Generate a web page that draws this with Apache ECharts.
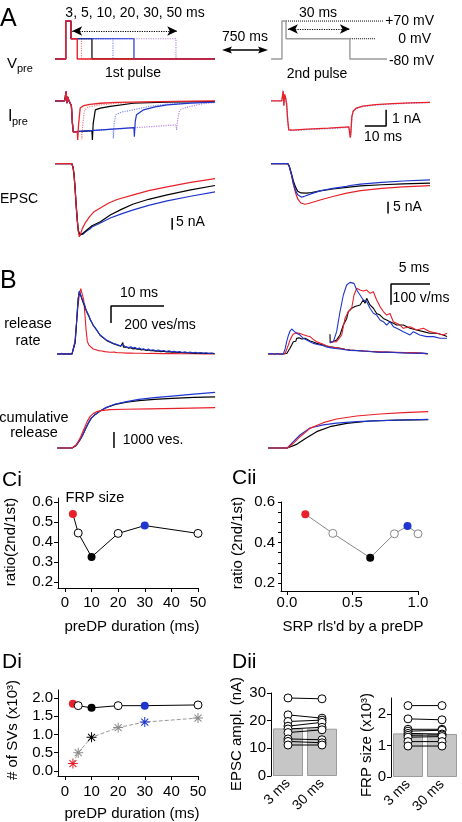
<!DOCTYPE html>
<html><head><meta charset="utf-8">
<script src="https://cdn.jsdelivr.net/npm/echarts@6/dist/echarts.min.js"></script>
<style>html,body{margin:0;padding:0;background:#fff}#c{width:462px;height:822px}</style>
</head><body><div id="c"></div>
<script>
// ===== DATA (t in ms, V in mV, I in nA, rates in ves/ms, counts in vesicles) =====
const vpre3  = [[-7.6,-80],[-2.5,-80],[-2.5,70],[0,70],[0,0],[3,0],[3,-80],[68.6,-80]];
const vpre5  = [[-7.6,-80],[-2.5,-80],[-2.5,70],[0,70],[0,0],[5,0],[5,-80],[68.6,-80]];
const vpre10 = [[-7.6,-80],[-2.5,-80],[-2.5,70],[0,70],[0,0],[10,0],[10,-80],[68.6,-80]];
const vpre20 = [[-7.6,-80],[-2.5,-80],[-2.5,70],[0,70],[0,0],[20,0],[20,-80],[68.6,-80]];
const vpre30 = [[-7.6,-80],[-2.5,-80],[-2.5,70],[0,70],[0,0],[30,0],[30,-80],[68.6,-80]];
const vpre50 = [[-7.6,-80],[-2.5,-80],[-2.5,70],[0,70],[0,0],[50,0],[50,-80],[68.6,-80]];
const vpre2nd = [[-7,-80],[-1.9,-80],[-1.9,70],[0,70],[0,0],[30,0],[30,-80],[47.4,-80]];
const vpreRef70 = [[0,70],[45.5,70]];
const vpreRef0 = [[30,0],[41.8,0]];
const arrow1st = [[0.6,30.6],[50.6,30.6]];
const arrow2nd = [[0.9,38.5],[30,38.5]];

const ipreStart = [[-7.6,0],[-3,0],[-2.6,0.1],[-2.3,0.58],[-1.9,-0.15],[-1.5,0.25],[-1.1,0.05],[-0.3,0],[0.2,-0.3],[0.7,-1.4],[1.1,-1.93]];
const ipre3  = ipreStart.concat([[3,-1.91],[3.2,-2.44],[3.6,-1.5],[4.4,-0.45],[6,-0.3],[9,-0.22],[14,-0.15],[22,-0.1],[35,-0.06],[50,-0.03],[68.6,0]]);
const ipre5  = ipreStart.concat([[5,-1.89],[5.2,-2.4],[5.6,-1.5],[6.4,-0.6],[8,-0.4],[12,-0.28],[21.9,-0.15],[35,-0.08],[50,-0.05],[68.6,-0.02]]);
const ipre10 = ipreStart.concat([[10,-1.85],[10.2,-2.44],[10.6,-1.4],[11.6,-0.56],[14,-0.45],[18.7,-0.35],[29.7,-0.15],[45,-0.08],[68.6,-0.04]]);
const ipre20 = ipreStart.concat([[20,-1.76],[20.2,-2.35],[20.6,-1.4],[21.2,-0.87],[24,-0.7],[29.7,-0.56],[37,-0.35],[45.8,-0.2],[57,-0.12],[68.6,-0.05]]);
const ipre30 = ipreStart.concat([[30,-1.67],[30.2,-2.23],[30.6,-1.3],[31.2,-0.87],[34.6,-0.56],[40,-0.38],[45.8,-0.25],[57,-0.14],[68.6,-0.08]]);
const ipre50 = ipreStart.concat([[50,-1.5],[50.3,-1.81],[50.8,-1.2],[51.7,-0.6],[54,-0.45],[58.3,-0.3],[63,-0.18],[68.6,-0.1]]);
const ipre2Red  = [[-7,0],[-2,0],[-1.6,0.1],[-1.3,0.6],[-1.0,-0.3],[-0.6,0.4],[-0.2,0.2],[0.3,-0.2],[0.8,-1.2],[1.3,-1.8],[3,-1.82],[10,-1.76],[20,-1.7],[29.5,-1.62],[29.9,-1.7],[30.2,-2.3],[30.5,-1.9],[30.9,-1.0],[31.5,-0.65],[33,-0.45],[36,-0.33],[42,-0.24],[50,-0.17],[58,-0.13],[67.6,-0.09]];
const ipre2Blue = [[-7,0],[-2,0],[-1.7,0.15],[-1.45,0.68],[-1.0,-0.25],[-0.6,0.35],[-0.2,0.2],[0.3,-0.2],[0.8,-1.25],[1.3,-1.83],[3,-1.85],[10,-1.79],[20,-1.73],[29.5,-1.65],[29.9,-1.72],[30.2,-2.25],[30.5,-1.9],[30.9,-1.02],[31.5,-0.68],[33,-0.48],[36,-0.36],[42,-0.26],[50,-0.19],[58,-0.15],[67.6,-0.1]];

const epscRed   = [[-7.6,0],[0.4,0],[1,-1.5],[1.5,-5],[2,-11],[2.5,-18],[3,-24],[3.5,-29],[4,-31.2],[4.5,-30],[5.5,-27.5],[6.8,-25.3],[9,-22.5],[11,-20.5],[14,-18.9],[18,-16.8],[22,-15.3],[29.7,-13.3],[37,-11.5],[45.8,-9.9],[57,-8],[68.6,-6.4]];
const epscBlack = [[-7.6,0],[0.4,0],[1,-1.5],[1.5,-5],[2,-11],[2.5,-18],[3,-24],[3.5,-28.5],[4.2,-30.5],[5,-30.3],[6,-29.5],[8,-28],[10,-26.5],[14,-24.8],[18.7,-21.9],[24,-19.5],[29.7,-17.2],[37,-15.2],[45.8,-13.3],[57,-11.2],[68.6,-9.3]];
const epscBlue  = [[-7.6,0],[0.4,0],[1,-1.5],[1.5,-5],[2,-11],[2.5,-18],[3,-24],[3.5,-28.5],[4.2,-30.3],[5,-30.6],[5.6,-30.2],[6,-30.4],[7,-29.1],[8,-28.4],[9,-27.9],[10,-27],[14,-25.3],[18.7,-23.2],[24,-21.4],[29.7,-19.7],[37,-17.8],[45.8,-15.9],[57,-13.9],[68.6,-12]];
const epsc2Red   = [[-7,0],[0.8,0],[1.5,-1],[2.5,-4.5],[3.5,-9],[4.5,-12.5],[5.5,-15],[7,-16.8],[8.9,-17.3],[11,-16.9],[16,-15.5],[22,-14],[28.5,-12.6],[35,-11.5],[45,-10.5],[55,-9.9],[67.6,-9.4]];
const epsc2Black = [[-7,0],[0.8,0],[1.5,-1],[2.5,-4],[3.5,-7.5],[4.5,-10],[5.5,-11.8],[7,-12.5],[9.7,-12.6],[12,-12.3],[16,-11.6],[22,-10.8],[28.5,-10.1],[35,-9.5],[45,-9],[55,-8.6],[67.6,-8.3]];
const epsc2Blue  = [[-7,0],[0.8,0],[1.5,-1],[2.5,-4.5],[3.5,-8.5],[4.5,-11.5],[5.5,-13.3],[7.4,-14.3],[9,-13.8],[12,-12.8],[16,-11.6],[22,-10.5],[28.5,-9.7],[30,-9.3],[30.5,-9.9],[35,-8.7],[45,-8],[55,-7.4],[67.6,-6.9]];

const rateRed = [[-2.8,0],[-1,2],[0,0],[0.25,10],[0.55,150],[0.88,380],[1.15,580],[1.4,700],[1.65,770],[1.83,792],[2.0,760],[2.2,640],[2.45,459],[2.65,290],[2.9,145],[3.2,105],[3.5,85],[4.0,59],[4.5,50],[5,40],[5.6,35],[6.2,28],[7.2,20],[8.0,22],[8.5,15],[9.3,14],[10.3,10],[11,12],[12,8],[13,9],[14,6],[15,7],[17,5],[19,6],[21,3],[23,4],[25,2],[26.9,2]];
const rateBlack = [[-2.8,0],[0,0],[0.3,15],[0.6,130],[0.9,400],[1.15,640],[1.38,735],[1.6,715],[1.85,650],[2.13,600],[2.4,560],[2.65,515],[2.9,480],[3.2,440],[3.5,395],[3.75,370],[4.0,335],[4.3,320],[4.6,285],[4.9,262],[5.3,220],[5.6,215],[5.9,190],[6.2,180],[6.5,160],[6.8,158],[7.2,138],[7.5,140],[7.8,120],[8.1,125],[8.5,105],[8.8,108],[9.2,90],[9.5,92],[9.6,135],[9.7,80],[10.0,80],[10.3,82],[10.7,68],[11.1,74],[11.5,60],[11.9,66],[12.3,55],[12.7,60],[13.1,48],[13.5,52],[14,42],[14.4,46],[14.8,38],[15.3,40],[15.8,32],[16.3,36],[16.8,28],[17.3,32],[17.8,25],[18.3,28],[18.8,20],[19.3,24],[19.8,17],[20.3,20],[21,14],[22,16],[23,10],[24,12],[25,7],[26,9],[26.9,5]];
const rateBlue = [[-2.8,3],[-2.4,-6],[-2,8],[-1.6,-4],[-1.2,6],[-0.8,-5],[-0.4,4],[0,0],[0.3,20],[0.6,150],[0.9,420],[1.15,650],[1.38,741],[1.6,720],[1.85,660],[2.13,615],[2.4,580],[2.65,520],[2.9,497],[3.2,450],[3.5,400],[3.75,380],[4.0,341],[4.3,330],[4.6,290],[4.9,270],[5.3,224],[5.6,230],[5.9,195],[6.2,190],[6.5,165],[6.8,170],[7.2,145],[7.5,150],[7.8,125],[8.1,135],[8.5,112],[8.8,118],[9.2,95],[9.6,110],[10.0,88],[10.3,92],[10.7,75],[11.1,85],[11.5,70],[11.9,78],[12.3,62],[12.7,70],[13.1,55],[13.5,62],[14,48],[14.4,58],[14.8,45],[15.3,50],[15.8,38],[16.3,46],[16.8,35],[17.3,42],[17.8,30],[18.3,38],[18.8,25],[19.3,33],[19.8,22],[20.3,28],[20.8,18],[21.3,26],[21.8,15],[22.3,22],[22.8,12],[23.3,20],[23.8,10],[24.3,17],[24.8,8],[25.3,15],[25.8,6],[26.3,12],[26.9,5]];

const cumRed   = [[-2.8,0],[0,0],[0.25,0],[0.8,200],[1.5,600],[2.0,980],[2.45,1330],[2.9,1680],[3.4,1960],[4.0,2150],[4.66,2270],[5.5,2340],[7.2,2400],[10,2425],[14.7,2450],[20,2480],[27,2520]];
const cumBlack = [[-2.8,0],[0,0],[0.25,0],[0.8,160],[1.5,500],[2.0,800],[2.45,1125],[3.0,1500],[3.6,1850],[4.4,2100],[5.3,2310],[6.5,2530],[8.2,2730],[10.3,2860],[12.6,2960],[15.5,3040],[18.9,3100],[23,3160],[27,3200]];
const cumBlue  = [[-2.8,0],[0,0],[0.25,0],[0.8,160],[1.5,500],[2.0,800],[2.45,1125],[3.0,1500],[3.6,1850],[4.4,2100],[5.3,2310],[6.5,2540],[8.2,2750],[10.3,2900],[12.6,3040],[15.5,3150],[18.9,3250],[23,3370],[27,3480]];

const rate2Red = [[-2.8,0],[0,0],[0.38,5],[0.7,55],[1.0,106],[1.3,160],[1.64,204],[1.95,235],[2.26,255],[2.58,250],[2.89,243],[3.2,240],[3.52,231],[3.84,226],[4.15,223],[4.6,212],[5.09,204],[5.7,172],[6.35,145],[7.0,128],[7.6,114],[8.2,98],[8.86,86],[9.8,75],[10.75,67],[11.7,56],[12.64,47],[13.9,42],[15.16,35],[16.7,30],[18.3,27],[19.8,24],[21.4,20],[23,16],[24.6,16],[26,10],[27.3,2]];
const rate2Black = [[-2.8,0],[0,0],[0.69,5],[1.0,35],[1.32,67],[1.64,105],[1.95,145],[2.26,165],[2.42,150],[2.58,184],[2.75,170],[2.89,165],[3.05,190],[3.21,192],[3.52,176],[3.84,185],[4.15,184],[4.6,170],[5.09,153],[5.7,140],[6.35,125],[7.0,115],[7.6,106],[8.2,95],[8.86,86],[9.8,75],[10.75,67],[11.7,56],[12.64,47],[13.9,42],[15.16,35],[16.7,30],[18.3,22],[19.8,20],[21.4,18],[23,14],[24.6,12],[26,8],[27.3,4]];
const rate2Blue = [[-2.8,0],[-2.2,6],[-1.6,-3],[-1,5],[-0.5,-2],[0.06,2],[0.4,60],[0.69,145],[1.0,215],[1.32,270],[1.64,294],[1.85,285],[2.08,270],[2.3,255],[2.58,243],[2.9,235],[3.21,223],[3.5,200],[3.84,184],[4.15,175],[4.47,165],[4.8,150],[5.09,145],[5.7,125],[6.35,114],[7.0,105],[7.6,98],[8.2,82],[8.86,75],[9.8,65],[10.75,59],[11.7,50],[12.64,43],[13.9,40],[15.16,35],[16.7,26],[18.3,20],[19.8,24],[21.4,16],[23,12],[24.6,8],[26,10],[27.3,4]];
const rateZoomRed = [[0,0],[0.85,2],[1.5,34],[1.92,114],[2.35,147],[2.78,163],[3.08,227],[3.42,259],[3.85,251],[4.27,246],[4.7,251],[5.13,235],[5.56,243],[5.98,203],[6.41,171],[6.84,147],[7.26,130],[7.69,138],[8.12,98],[8.55,90],[8.97,82],[9.4,66],[10.26,74],[11.1,58],[11.97,66],[12.8,50],[13.7,42],[14.5,34],[15,42]];
const rateZoomBlack = [[0,37],[0.02,-3],[0.43,2],[0.85,10],[1.28,34],[1.71,82],[2.14,114],[2.35,147],[2.56,138],[2.78,163],[2.99,155],[3.2,171],[3.42,163],[3.85,179],[4.27,203],[4.49,187],[4.7,211],[5.13,179],[5.56,163],[5.98,138],[6.41,130],[6.84,114],[7.26,106],[7.69,98],[8.12,90],[8.55,82],[9.4,82],[10.26,66],[11.1,58],[11.97,50],[12.8,42],[13.7,42],[14.5,34],[15,26]];
const rateZoomBlue = [[0,-3],[0.43,2],[0.85,50],[1.28,146],[1.71,227],[2.14,275],[2.56,288],[2.78,295],[3.08,283],[3.42,251],[3.85,227],[4.27,203],[4.7,195],[5.13,163],[5.56,139],[5.98,130],[6.41,106],[6.84,98],[7.26,82],[7.69,98],[8.12,74],[8.55,66],[9.4,50],[10.26,34],[10.7,50],[11.5,34],[12.4,26],[13.25,26],[14.1,18],[15,18]];
const cum2Red   = [[-2.8,0],[0.8,0],[1.95,292],[3.21,708],[5.09,1229],[7.6,1583],[10.1,1812],[13.9,2000],[18.3,2125],[22.7,2208],[27.4,2271]];
const cum2Black = [[-2.8,0],[0.8,0],[2.58,229],[4.47,646],[6.35,1021],[8.86,1333],[12,1542],[16.4,1688],[21.4,1740],[27.4,1775]];
const cum2Blue  = [[-2.8,0],[0.8,0],[1.95,396],[3.21,813],[5.09,1250],[7.6,1450],[10.1,1550],[13.9,1646],[18.3,1708],[22.7,1750],[27.4,1792]];

// scale bars (data units)
const sbIpre = [[37,-1.56],[47,-1.56],[47,-0.56]];
const sbEpscL = [[48.2,-23.2],[48.2,-28.2]];
const sbEpscR = [[47.9,-16.3],[47.9,-21.3]];
const sbRate = [[17.36,565],[7.36,565],[7.36,365]];
const sbCum = [[7.92,1000],[7.92,0]];
const sbRateZoom = [[12.82,280],[7.82,280],[7.82,180]];

// C / D summary data
const ciDur = [3,5,10,20,30,50];
const ciRatio = [0.54,0.445,0.325,0.443,0.482,0.443];
const ciiSrp = [0.14,0.35,0.635,0.82,0.92,1.0];
const ciiRatio = [0.54,0.445,0.325,0.443,0.482,0.443];
const diDur = [3,5,10,20,30,50];
const diTotal = [1.84,1.79,1.73,1.79,1.79,1.81];
const diPreRel = [0.2,0.5,0.92,1.19,1.34,1.45];
const diiCats = ['3 ms','30 ms'];
const diiEpsc3  = [28.2,22.1,19.7,18.0,17.0,15.7,13.4,12.5,11.2];
const diiEpsc30 = [27.9,20.9,20.2,19.4,17.6,16.7,13.1,12.0,11.2];
const diiEpscMean = [17.2,17.1];
const diiFrp3  = [2.26,1.84,1.51,1.45,1.38,1.32,1.26,1.12,0.98];
const diiFrp30 = [2.26,1.81,1.51,1.48,1.36,1.33,1.28,1.12,0.98];
const diiFrpMean = [1.38,1.36];
const ciTicksX = [0,10,20,30,40,50];
const ciTicksY = [0.2,0.3,0.4,0.5,0.6];
const ciiTicksX = [0,0.5,1.0];
const ciiTicksY = [0.2,0.4,0.6];
const ciiTickMarksY = [0.2,0.25,0.3,0.35,0.4,0.45,0.5,0.55,0.6];
const diTicksY = [0,0.5,1.0,1.5,2.0];
const frpTicksY = [0,1,2];

// ===== STYLES =====
const F = '"Liberation Sans", Arial, Helvetica, sans-serif';
const RED = '#e8202a', BLUE = '#1f35d0', LBLUE = '#8090ee', PURP = '#b487e6', LRED = '#f08080', GRAY = '#9a9a9a';
const roles = ['red','open','black','open','blue','open'];
const starRoles = ['red','gray','black','gray','blue','gray'];
const roleColor = {red:RED, black:'#000', blue:BLUE, open:'#fff', gray:'#8a8a8a'};
const ASTER = 'path://M-1,-10L1,-10L1,10L-1,10Z M-10,-1L10,-1L10,1L-10,1Z M-6.3,-7.7L7.7,6.3L6.3,7.7L-7.7,-6.3Z M-7.7,6.3L6.3,-7.7L7.7,-6.3L-6.3,7.7Z';

const grids = [], xAxes = [], yAxes = [], series = [];
function addGrid(g, xa, ya) {
  grids.push(g); const gi = grids.length - 1;
  xAxes.push(Object.assign({gridIndex: gi}, xa));
  yAxes.push(Object.assign({gridIndex: gi}, ya));
  return {gi: gi, xi: xAxes.length - 1, yi: yAxes.length - 1};
}
function hid(min, max) { return {type:'value', min:min, max:max, show:false, splitLine:{show:false}}; }
function trace(ax, data, color, width, type) {
  series.push({type:'line', xAxisIndex:ax.xi, yAxisIndex:ax.yi, data:data, symbol:'none', showSymbol:false,
    lineStyle:{color:color, width:width || 1.2, type:type || 'solid'}, silent:true, animation:false, clip:false});
}
function arrowMark(ax, pts) {
  series.push({type:'line', xAxisIndex:ax.xi, yAxisIndex:ax.yi, data:pts, symbol:'none', lineStyle:{opacity:0}, silent:true, animation:false,
    markLine:{silent:true, animation:false, symbol:['arrow','arrow'], symbolSize:[7,10], label:{show:false},
      lineStyle:{color:'#000', type:'dotted', width:1.2}, data:[[{coord:pts[0]},{coord:pts[1]}]]}});
}
function valAxis(min, max, ticks, fmt, margin, tickMarks, tickLen) {
  return {type:'value', min:min, max:max, axisLine:{show:true, onZero:false, lineStyle:{color:'#000', width:1}}, splitLine:{show:false},
    axisTick:{show:true, customValues:tickMarks || ticks, length:tickLen || 4, lineStyle:{color:'#000'}},
    axisLabel:{customValues:ticks, color:'#000', fontSize:15, fontFamily:F, margin:margin, formatter:fmt}};
}

// ===== PANEL A =====
const gVL = addGrid({left:55, top:16, width:160, height:48}, hid(-7.6,68.6), hid(-100,90));
const gVR = addGrid({left:268, top:16, width:162, height:48}, hid(-8.45,67.6), hid(-100,90));
const gIL = addGrid({left:55, top:88, width:160, height:57}, hid(-7.6,68.6), hid(-2.75,0.8));
const gIR = addGrid({left:268, top:88, width:162, height:57}, hid(-8.45,67.6), hid(-2.75,0.8));
const gEL = addGrid({left:55, top:159, width:160, height:82}, hid(-7.6,68.6), hid(-33,2));
const gER = addGrid({left:268, top:159, width:162, height:82}, hid(-8.45,67.6), hid(-33,2));
// ===== PANEL B =====
const gRL = addGrid({left:57, top:283, width:158, height:75}, hid(-2.83,26.98), hid(-47,835));
const gCL = addGrid({left:57, top:385, width:158, height:67}, hid(-2.83,26.98), hid(-250,3940));
const gRR = addGrid({left:268, top:283, width:160, height:75}, hid(-2.83,27.36), hid(-47,835));
const gRZ = addGrid({left:328, top:272, width:122, height:74}, hid(-0.256,15.38), hid(-19.3,338));
const gCR = addGrid({left:268, top:385, width:160, height:67}, hid(-2.83,27.36), hid(-250,3940));

trace(gVL, vpre50, PURP, 1.2, 'dotted');
trace(gVL, vpre20, LBLUE, 1.2, 'dotted');
trace(gVL, vpre5, LRED, 1.2, 'dotted');
trace(gVL, vpre10, '#000', 1.2);
trace(gVL, vpre30, BLUE, 1.2);
trace(gVL, vpre3, RED, 1.4);
arrowMark(gVL, arrow1st);
trace(gVR, vpreRef70, '#000', 1, 'dotted');
trace(gVR, vpreRef0, '#000', 1, 'dotted');
trace(gVR, vpre2nd, GRAY, 1.4);
arrowMark(gVR, arrow2nd);

trace(gIL, ipre50, PURP, 1.2, 'dotted');
trace(gIL, ipre20, LBLUE, 1.2, 'dotted');
trace(gIL, ipre5, LRED, 1.2, 'dotted');
trace(gIL, ipre10, '#000', 1.2);
trace(gIL, ipre30, BLUE, 1.2);
trace(gIL, ipre3, RED, 1.3);
trace(gIR, ipre2Blue, LBLUE, 1.3, 'dotted');
trace(gIR, ipre2Red, RED, 1.3);
trace(gIR, sbIpre, '#000', 1.5);

trace(gEL, epscBlue, BLUE, 1.2);
trace(gEL, epscBlack, '#000', 1.2);
trace(gEL, epscRed, RED, 1.2);
trace(gEL, sbEpscL, '#000', 1.5);
trace(gER, epsc2Red, RED, 1.2);
trace(gER, epsc2Black, '#000', 1.2);
trace(gER, epsc2Blue, BLUE, 1.2);
trace(gER, sbEpscR, '#000', 1.5);

trace(gRL, rateRed, RED, 1.1);
trace(gRL, rateBlack, '#000', 1.1);
trace(gRL, rateBlue, BLUE, 1.1);
trace(gRL, sbRate, '#000', 1.5);
trace(gCL, cumBlack, '#000', 1.2);
trace(gCL, cumBlue, BLUE, 1.2);
trace(gCL, cumRed, RED, 1.2);
trace(gCL, sbCum, '#000', 1.5);
trace(gRR, rate2Black, '#000', 1.1);
trace(gRR, rate2Red, RED, 1.1);
trace(gRR, rate2Blue, BLUE, 1.1);
trace(gRZ, rateZoomBlack, '#000', 1.1);
trace(gRZ, rateZoomRed, RED, 1.1);
trace(gRZ, rateZoomBlue, BLUE, 1.1);
trace(gRZ, sbRateZoom, '#000', 1.5);
trace(gCR, cum2Black, '#000', 1.2);
trace(gCR, cum2Blue, BLUE, 1.2);
trace(gCR, cum2Red, RED, 1.2);

// ===== PANEL C =====
const f1 = v => v.toFixed(1);
const gCi = addGrid({left:58, top:498, width:140, height:90},
  valAxis(-2.6, 50, ciTicksX, v => String(v), 7), valAxis(0.17, 0.62, ciTicksY, f1, 5));
const gCii = addGrid({left:281, top:502, width:137, height:89},
  valAxis(-0.0458, 1, ciiTicksX, f1, 4), valAxis(0.1605, 0.6, ciiTicksY, f1, 6, ciiTickMarksY, 3));

function pts(xs, ys, roleArr, border, sym) {
  return xs.map((x, i) => ({value:[x, ys[i]], symbol: sym || 'circle',
    itemStyle:{color: roleColor[roleArr[i]], borderColor: roleArr[i] === 'open' ? border : roleColor[roleArr[i]], borderWidth: roleArr[i] === 'open' ? 1 : 0}}));
}
series.push({type:'line', xAxisIndex:gCi.xi, yAxisIndex:gCi.yi, data:pts(ciDur, ciRatio, roles, '#000'), symbolSize:8, showAllSymbol:true,
  lineStyle:{color:'#000', width:1}, silent:true, animation:false, z:3});
series.push({type:'line', xAxisIndex:gCii.xi, yAxisIndex:gCii.yi, data:pts(ciiSrp, ciiRatio, roles, '#888'), symbolSize:8, showAllSymbol:true,
  lineStyle:{color:'#888', width:1}, silent:true, animation:false, z:3});

// ===== PANEL D =====
const gDi = addGrid({left:58, top:690, width:140, height:86},
  valAxis(-2.6, 50, ciTicksX, v => String(v), 8), valAxis(-0.14, 2.22, diTicksY, f1, 5));
series.push({type:'line', xAxisIndex:gDi.xi, yAxisIndex:gDi.yi, data:pts(diDur, diPreRel, starRoles, '#000', ASTER), symbolSize:10, showAllSymbol:true,
  lineStyle:{color:'#9a9a9a', width:1, type:'dashed'}, silent:true, animation:false, z:3});
series.push({type:'line', xAxisIndex:gDi.xi, yAxisIndex:gDi.yi, data:pts(diDur, diTotal, roles, '#000'), symbolSize:8, showAllSymbol:true,
  lineStyle:{color:'#000', width:1}, silent:true, animation:false, z:4});

function catAxis() {
  return {type:'category', data:diiCats, axisLine:{show:false}, axisTick:{show:false},
    axisLabel:{rotate:45, color:'#000', fontSize:14, fontFamily:F, margin:5, interval:0}};
}
const gDE = addGrid({left:271, top:693, width:68, height:83}, catAxis(),
  valAxis(0, 30, [0,10,20,30], v => String(v), 5));
const gDF = addGrid({left:391, top:698, width:68, height:79}, catAxis(),
  valAxis(0, 2.5, frpTicksY, v => String(v), 5));
function pairPanel(ax, mean, a, b) {
  series.push({type:'bar', xAxisIndex:ax.xi, yAxisIndex:ax.yi, data:mean, barWidth:30, silent:true, animation:false,
    itemStyle:{color:'#c6c6c6', borderColor:'#9c9c9c', borderWidth:1}});
  a.forEach((v, i) => series.push({type:'line', xAxisIndex:ax.xi, yAxisIndex:ax.yi, data:[v, b[i]], symbol:'circle', symbolSize:8,
    itemStyle:{color:'#fff', borderColor:'#000', borderWidth:1}, lineStyle:{color:'#000', width:1}, silent:true, animation:false, z:3}));
}
pairPanel(gDE, diiEpscMean, diiEpsc3, diiEpsc30);
pairPanel(gDF, diiFrpMean, diiFrp3, diiFrp30);

// ===== TEXT =====
function T(s, x, y, size, align, rot) {
  return {type:'text', x:x, y:y, rotation:rot || 0, silent:true,
    style:{text:s, x:0, y:0, font:size + 'px ' + F, fill:'#000', textAlign:align || 'center', textVerticalAlign:'middle', align:align || 'center', verticalAlign:'middle'}};
}
const R90 = Math.PI / 2;
const texts = [
  T('A', 0, 19, 25, 'left'),
  T('3, 5, 10, 20, 30, 50 ms', 135, 13, 14),
  T('1st pulse', 133, 73, 14),
  T('750 ms', 245, 37, 14),
  T('30 ms', 318, 13, 14),
  T('2nd pulse', 317, 74, 14),
  T('+70 mV', 434, 21, 14, 'right'),
  T('0 mV', 431, 39, 14, 'right'),
  T('-80 mV', 434, 61, 14, 'right'),
  T('V', 7, 64, 15, 'left'),
  T('pre', 17, 69, 11, 'left'),
  T('I', 8, 117, 16, 'left'),
  T('pre', 12, 122, 11, 'left'),
  T('EPSC', 0, 199, 14, 'left'),
  T('1 nA', 392, 119, 14, 'left'),
  T('10 ms', 383, 137, 14),
  T('5 nA', 176, 222, 14, 'left'),
  T('5 nA', 393, 207, 14, 'left'),
  T('B', 0, 281, 25, 'left'),
  T('release', 28, 324, 14.5),
  T('rate', 28, 341, 14.5),
  T('10 ms', 139, 293, 14),
  T('200 ves/ms', 160, 325, 14),
  T('cumulative', 34, 418, 14.5),
  T('release', 34, 433, 14.5),
  T('1000 ves.', 153, 440, 14),
  T('5 ms', 414, 268, 14),
  T('100 v/ms', 421, 298, 14),
  T('Ci', 2, 480, 21, 'left'),
  T('Cii', 232, 478, 21, 'left'),
  T('FRP size', 95, 498, 14.5),
  T('ratio(2nd/1st)', 11, 542, 15, 'center', R90),
  T('preDP duration (ms)', 132, 627, 15),
  T('ratio (2nd/1st)', 238, 543, 15, 'center', R90),
  T("SRP rls'd by a preDP", 353, 627, 15),
  T('Di', 2, 662, 21, 'left'),
  T('Dii', 232, 662, 21, 'left'),
  T('# of SVs (x10\u00b3)', 13, 730, 15, 'center', R90),
  T('preDP duration (ms)', 132, 814, 15),
  T('EPSC ampl. (nA)', 237, 734, 15, 'center', R90),
  T('FRP size (x10\u00b3)', 367, 745, 15, 'center', R90)
];
const arrows750 = [
  {type:'line', silent:true, shape:{x1:228, y1:50, x2:262, y2:50}, style:{stroke:'#000', lineWidth:1.3}},
  {type:'polygon', silent:true, shape:{points:[[222,50],[232,46.5],[230,50],[232,53.5]]}, style:{fill:'#000'}},
  {type:'polygon', silent:true, shape:{points:[[268,50],[258,46.5],[260,50],[258,53.5]]}, style:{fill:'#000'}}
];
// axis frame lines taken from the grid rectangles (safety net, overlaps the axis lines)
const frames = [];
[gCi, gCii, gDi].forEach(a => {
  const g = grids[a.gi];
  frames.push({type:'line', silent:true, z:50, shape:{x1:g.left + 0.5, y1:g.top, x2:g.left + 0.5, y2:g.top + g.height + 0.5}, style:{stroke:'#000', lineWidth:1}});
  frames.push({type:'line', silent:true, z:50, shape:{x1:g.left, y1:g.top + g.height + 0.5, x2:g.left + g.width, y2:g.top + g.height + 0.5}, style:{stroke:'#000', lineWidth:1}});
});
[gDE, gDF].forEach(a => {
  const g = grids[a.gi];
  frames.push({type:'line', silent:true, z:50, shape:{x1:g.left + 0.5, y1:g.top, x2:g.left + 0.5, y2:g.top + g.height}, style:{stroke:'#000', lineWidth:1}});
});

const chart = echarts.init(document.getElementById('c'), null, {renderer:'canvas'});
chart.setOption({
  animation:false, backgroundColor:'#fff',
  grid:grids, xAxis:xAxes, yAxis:yAxes, series:series,
  graphic:{elements:texts.concat(arrows750, frames)}
});
</script></body></html>
